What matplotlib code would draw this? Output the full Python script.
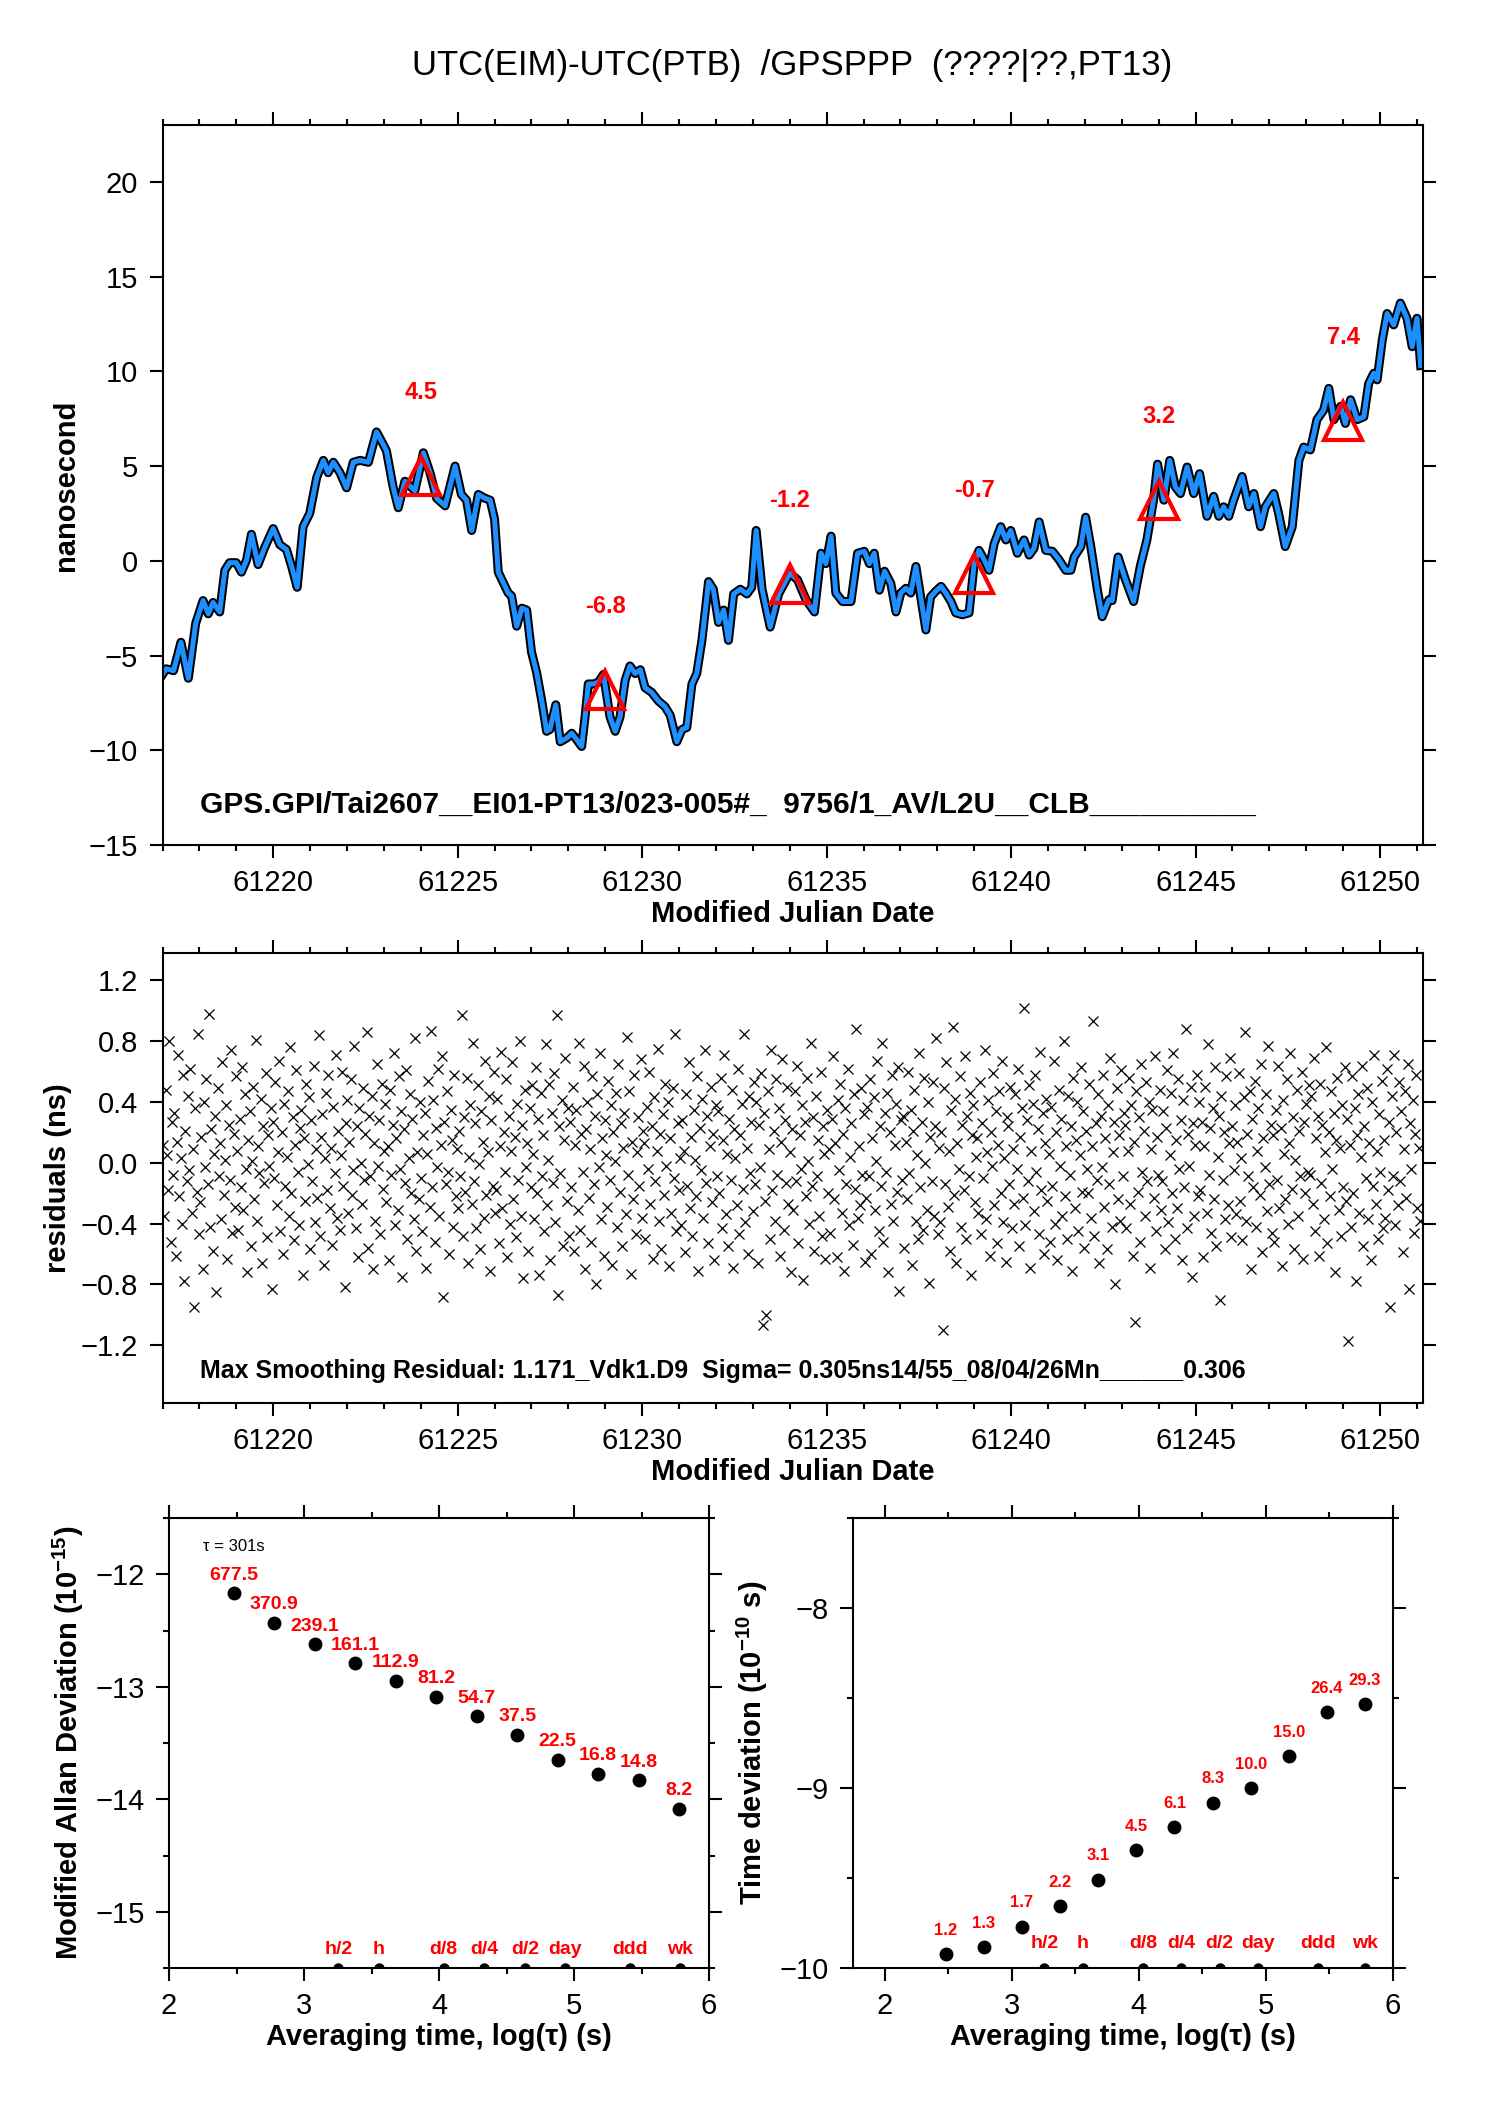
import numpy as np
import matplotlib.pyplot as plt
from matplotlib.ticker import MultipleLocator, FormatStrFormatter

plt.rcParams['font.family'] = ['Liberation Sans', 'DejaVu Sans']
plt.rcParams['mathtext.fontset'] = 'custom'
plt.rcParams['mathtext.rm'] = 'Liberation Sans'
plt.rcParams['mathtext.bf'] = 'Liberation Sans:bold'
plt.rcParams['axes.linewidth'] = 1.5

#%% data
title_txt = "UTC(EIM)-UTC(PTB)  /GPSPPP  (????|??,PT13)"
gps_txt = "GPS.GPI/Tai2607__EI01-PT13/023-005#_  9756/1_AV/L2U__CLB__________"
max_txt = "Max Smoothing Residual: 1.171_Vdk1.D9  Sigma= 0.305ns14/55_08/04/26Mn______0.306"

# smoothed curve
smooth_mjd = [61217.00, 61217.10, 61217.30, 61217.50, 61217.70, 61217.90, 61218.10, 61218.24, 61218.37, 61218.55,
              61218.69, 61218.82, 61219.00, 61219.14, 61219.28, 61219.41, 61219.59, 61219.77, 61220.00, 61220.18,
              61220.36, 61220.50, 61220.65, 61220.81, 61220.99, 61221.18, 61221.36, 61221.49, 61221.63, 61221.81,
              61221.99, 61222.17, 61222.35, 61222.58, 61222.80, 61222.98, 61223.07, 61223.25, 61223.39, 61223.57,
              61223.84, 61224.07, 61224.25, 61224.43, 61224.66, 61224.93, 61225.10, 61225.24, 61225.38, 61225.56,
              61225.74, 61225.88, 61226.00, 61226.10, 61226.37, 61226.46, 61226.60, 61226.74, 61226.87, 61227.00,
              61227.14, 61227.28, 61227.41, 61227.50, 61227.66, 61227.78, 61227.96, 61228.09, 61228.23, 61228.36,
              61228.45, 61228.54, 61228.68, 61228.82, 61228.95, 61229.13, 61229.27, 61229.40, 61229.54, 61229.67,
              61229.81, 61229.95, 61230.08, 61230.26, 61230.44, 61230.62, 61230.76, 61230.94, 61231.08, 61231.21,
              61231.35, 61231.48, 61231.62, 61231.80, 61231.93, 61232.07, 61232.21, 61232.34, 61232.48, 61232.66,
              61232.84, 61232.97, 61233.09, 61233.25, 61233.47, 61233.70, 61234.00, 61234.21, 61234.44, 61234.67,
              61234.85, 61234.98, 61235.12, 61235.25, 61235.43, 61235.66, 61235.84, 61236.02, 61236.16, 61236.29,
              61236.43, 61236.57, 61236.74, 61236.88, 61237.01, 61237.15, 61237.28, 61237.42, 61237.55, 61237.69,
              61237.82, 61237.96, 61238.10, 61238.23, 61238.37, 61238.50, 61238.68, 61238.86, 61239.00, 61239.13,
              61239.27, 61239.40, 61239.54, 61239.72, 61239.86, 61239.99, 61240.17, 61240.35, 61240.49, 61240.62,
              61240.76, 61240.94, 61241.12, 61241.30, 61241.48, 61241.62, 61241.71, 61241.89, 61242.02, 61242.16,
              61242.34, 61242.47, 61242.65, 61242.74, 61242.90, 61243.10, 61243.32, 61243.50, 61243.68, 61243.86,
              61243.97, 61244.14, 61244.30, 61244.45, 61244.59, 61244.77, 61244.95, 61245.11, 61245.31, 61245.49,
              61245.63, 61245.76, 61245.90, 61246.03, 61246.26, 61246.44, 61246.58, 61246.76, 61246.89, 61247.12,
              61247.25, 61247.43, 61247.62, 61247.80, 61247.93, 61248.11, 61248.29, 61248.47, 61248.61, 61248.75,
              61248.93, 61249.06, 61249.20, 61249.38, 61249.56, 61249.69, 61249.83, 61249.92, 61250.06, 61250.19,
              61250.37, 61250.55, 61250.73, 61250.87, 61251.00, 61251.10]
smooth_ns = [-6.0, -5.7, -5.8, -4.3, -6.2, -3.3, -2.1, -2.8, -2.2, -2.7,
             -0.5, -0.1, -0.1, -0.6, 0.05, 1.4, -0.2, 0.7, 1.7, 0.85,
             0.6, -0.3, -1.4, 1.8, 2.5, 4.4, 5.3, 4.65, 5.2, 4.65,
             3.85, 5.2, 5.3, 5.2, 6.8, 6.15, 5.8, 3.9, 2.8, 4.2,
             3.7, 5.7, 4.65, 3.3, 2.9, 5.0, 3.5, 3.2, 1.6, 3.5,
             3.3, 3.2, 2.2, -0.6, -1.7, -1.85, -3.45, -2.5, -2.6, -4.8,
             -5.9, -7.4, -9.0, -8.9, -7.6, -9.55, -9.35, -9.1, -9.45, -9.8,
             -8.3, -6.5, -6.5, -6.4, -6.0, -8.25, -9.0, -8.25, -6.3, -5.55,
             -5.95, -5.75, -6.7, -6.95, -7.4, -7.7, -8.15, -9.55, -8.9, -8.8,
             -6.5, -5.95, -4.2, -1.1, -1.5, -3.25, -2.6, -4.2, -1.75, -1.5,
             -1.75, -1.4, 1.6, -1.5, -3.5, -1.75, -0.65, -1.0, -2.05, -2.7,
             0.4, -0.15, 1.3, -1.7, -2.15, -2.15, 0.4, 0.5, -0.15, 0.4,
             -1.55, -0.55, -1.2, -2.7, -1.7, -1.45, -1.7, -0.3, -1.9, -3.65,
             -1.9, -1.6, -1.35, -1.7, -2.15, -2.75, -2.85, -2.75, -0.15, 0.55,
             0.05, -0.5, 0.9, 1.8, 1.1, 1.6, 0.4, 1.1, 0.3, 0.65,
             2.05, 0.55, 0.5, 0.05, -0.5, -0.5, 0.2, 0.75, 2.3, 0.75,
             -1.55, -2.95, -2.05, -2.1, 0.2, -1.0, -2.15, -0.3, 1.1, 3.2,
             5.1, 3.2, 5.3, 3.9, 3.55, 4.95, 3.55, 4.6, 2.35, 3.4,
             2.35, 2.85, 2.35, 3.2, 4.45, 2.85, 3.55, 1.8, 2.85, 3.55,
             2.5, 0.75, 1.8, 5.3, 6.0, 5.85, 7.45, 7.95, 9.1, 7.45,
             8.15, 7.25, 8.5, 7.45, 7.6, 9.35, 9.9, 9.55, 11.65, 13.05,
             12.45, 13.6, 12.8, 11.3, 12.8, 10.3]

# five-day markers
mark_mjd = [61224, 61229, 61234, 61239, 61244, 61249]
mark_ns = [4.5, -6.8, -1.2, -0.7, 3.2, 7.4]

# residuals, in units of 0.01 ns (one row per day)
resid_cns = [
    12, -35, 48, 5, -18, 80, -52, 27, -8, 33, -61, 14, 71, -22, 3, -40, 58, -78, 21, -12, 44, -5, 62, -33, 9, -95, 36, -19, 85, -47,
    -26, 17, -70, 40, -3, 55, -14, 98, -42, 22, -58, 6, 31, -85, 49, -9, 13, -37, 66, -21, 2, 38, -63, 25, -11, 74, -46, 19, -29, 57,
    8, -44, 29, -16, 63, -31, 45, -4, -72, 15, 34, -55, 1, 50, -24, 81, -38, 11, -7, 42, -66, 24, -13, 59, -49, 18, -2, 36, -83, 27,
    -10, 53, -28, 7, 67, -45, 20, -60, 39, -15, 4, 47, -35, 76, -20, 30, -51, 12, 61, -6, -41, 23, 35, -74, 16, -25, 52, -1, 43, -57,
    28, -12, 64, -39, 9, -23, 84, -48, 17, 32, -67, 3, 46, -18, 58, -30, 10, -54, 37, -7, 71, -36, 21, -44, 5, 60, -15, -82, 26, 41,
    -33, 14, 55, -21, -5, 77, -43, 24, -62, 36, 0, -27, 49, -11, 19, 86, -56, 31, -9, 44, -70, 13, -38, 65, -2, 28, -47, 52, -17, 8,
    39, -26, 11, -64, 48, -8, 25, 72, -41, 16, -31, 57, -4, 34, -75, 22, -13, 61, -50, 3, 45, -20, 29, -37, 82, -58, 7, -24, 40, -10,
    -45, 18, 33, -69, 6, 54, -29, 87, -16, 41, -52, 23, -3, 62, -35, 12, 70, -88, 27, -14, 47, -6, -60, 35, 15, -42, 58, -22, 9, -30,
    21, -9, 97, -48, 30, -19, 56, -66, 4, 38, -27, 79, -12, 26, -43, 51, -1, -57, 34, 14, -36, 67, -21, 7, 44, -71, 28, -15, 60, -33,
    -18, 42, -53, 11, 73, -30, 20, -6, 55, -62, 31, -40, 8, 66, -24, 17, -49, 39, -11, 80, -35, 25, -76, 48, -3, 13, -58, 36, -16, 51,
    6, -37, 63, -20, 29, -74, 46, -9, 18, -45, 78, -28, 2, 52, -64, 33, -13, 59, -39, 97, -87, 24, -7, 41, -55, 15, 69, -25, 36, -48,
    27, -16, 50, -58, 12, 35, -31, 79, -44, 19, -6, 64, -70, 22, 40, -23, 9, -52, 57, -14, 31, -80, 45, -3, 72, -37, 16, -61, 28, 5,
    -29, 54, -11, 38, -67, 20, 1, 46, -42, 65, -19, 26, -55, 10, 33, -34, 83, -8, 47, -73, 14, -24, 58, -47, 7, 30, -15, 68, -36, 21,
    13, -50, 37, -4, 60, -27, 24, -63, 43, -12, 8, 75, -38, 19, -57, 32, -21, 52, -2, 40, -68, 16, -33, 49, -10, 85, -45, 26, -18, 3,
    -41, 28, 8, -59, 45, -15, 66, -30, 17, -48, 35, 2, -22, 57, -71, 23, -5, 42, -36, 74, -13, 31, -53, 11, 50, -26, 19, -64, 38, -9,
    34, -20, 56, -43, 15, 71, -34, 6, -55, 29, -11, 48, -69, 22, 3, -28, 62, -47, 18, 39, -17, 85, -39, 10, -60, 44, -7, 27, -32, 53,
    -14, 40, -66, 25, -3, 59, -107, 33, -25, -100, 47, 9, -50, 74, -18, 21, -38, 55, -8, 36, -61, 14, 68, -44, 28, -13, 50, -27, 7, -72,
    22, -31, 47, -12, 64, -53, 18, -4, 38, -77, 27, -22, 56, 1, -40, 79, -15, 30, -58, 44, -9, 15, -35, 60, -48, 24, 6, -63, 35, -20,
    9, -46, 29, 70, -24, 13, -62, 41, -5, 52, -33, 19, -71, 36, -14, 62, -41, 4, 26, -54, 45, -17, 88, -36, 11, -28, 49, -8, 32, -65,
    -23, 37, -9, 55, -60, 16, 43, -31, 1, 67, -45, 24, -15, 79, -52, 33, -6, 46, -72, 20, -27, 58, -38, 12, 39, -19, 63, -84, 28, -11,
    31, -56, 14, -24, 60, -7, 35, -67, 21, 48, -38, 5, -50, 72, -16, 27, -44, 56, 0, -31, 40, -79, 17, -12, 53, -35, 24, 82, -47, 10,
    -39, 20, -110, 49, -14, 66, -29, 8, -58, 35, 89, -21, 42, -66, 13, -4, 57, -42, 25, -18, 70, -50, 31, -9, 46, -74, 18, 38, -26, 4,
    16, -33, 53, -47, 26, -10, 74, -37, 7, 41, -61, 20, -2, 59, -28, 34, -53, 12, 47, -20, 67, -39, 3, -65, 30, 24, -14, 50, -43, 9,
    -27, 45, -4, 62, -55, 17, 36, -23, 102, -41, 28, -12, 51, -69, 8, 39, -32, 58, -6, 22, -47, 73, -18, 33, -60, 13, 42, -25, 6, -52,
    37, -15, 67, -40, 20, -64, 48, -2, 29, -35, 80, -22, 11, -50, 44, -8, 24, -71, 56, -30, 15, 40, -45, 5, 63, -19, 34, -56, 21, -4,
    -20, 52, -36, 11, 93, -48, 26, -11, 45, -66, 31, -3, 58, -29, 16, -57, 38, -14, 69, -42, 7, 27, -80, 49, -24, 18, -38, 61, -9, 33,
    25, -43, 8, 56, -27, 38, -61, 14, -105, 47, -19, 30, -52, 65, -6, 21, -35, 53, -12, 40, -69, 9, 35, -23, 70, -45, 17, -8, 48, -31,
    -12, 34, -57, 23, 61, -39, 5, 46, -20, 72, -50, 15, -30, 55, -4, 28, -64, 41, -16, 88, -43, 19, -2, 50, -75, 26, -35, 12, 58, -22,
    40, -18, 27, -62, 11, 50, -33, 78, -8, 23, -46, 36, -24, 63, -55, 4, 31, -90, 44, -11, 20, -37, 57, -28, 13, 69, -49, 24, -5, 38,
    -34, 14, 59, -25, 3, -51, 43, 86, -38, 19, -9, 47, -70, 29, -16, 54, -42, 8, 36, -21, 65, -59, 16, -3, 45, -32, 77, -14, 25, -46,
    18, -52, 35, -11, 64, -30, 23, -68, 41, 6, -24, 55, -40, 13, 72, -17, 30, -57, 2, 48, -35, 21, -9, 60, -63, 27, -20, 39, -6, 51,
    -8, 44, -27, 69, -45, 16, 31, -61, 52, -13, 25, -37, 7, 76, -53, 20, -22, 47, -4, 33, -72, 15, 56, -31, 10, -48, 38, -16, 63, -25,
    29, -117, 12, -42, 57, -20, 36, -78, 18, 45, -33, 4, 64, -55, 24, -10, 49, -37, 13, -64, 40, -15, 71, -27, 8, -50, 32, -6, 54, -43,
    15, -36, 62, -18, 27, -95, 44, -9, 71, -41, 20, -28, 53, -12, 34, -59, 9, 47, -23, 65, -83, 26, -4, 41, -46, 19, 58, -30, 10, -38,
]

# stability, log10 of averaging time (tau0 = 301 s, doubling)
log_tau = [2.48, 2.78, 3.08, 3.38, 3.68, 3.98, 4.28, 4.58, 4.88, 5.18, 5.48, 5.78]
mdev_e15 = [677.5, 370.9, 239.1, 161.1, 112.9, 81.2, 54.7, 37.5, 22.5, 16.8, 14.8, 8.2]
tdev_e10 = [1.2, 1.3, 1.7, 2.2, 3.1, 4.5, 6.1, 8.3, 10.0, 15.0, 26.4, 29.3]

# reference averaging times (1800 s .. one week)
ref_names = ["h/2", "h", "d/8", "d/4", "d/2", "day", "ddd", "wk"]
ref_seconds = [1800, 3600, 10800, 21600, 43200, 86400, 259200, 604800]

#%% figure
W, H = 1488, 2105
fig = plt.figure(figsize=(W / 100, H / 100), dpi=100)

RED = '#ff0000'
BLUE = '#1e8fff'
TICK = 21


def style_axes(ax):
    ax.tick_params(which='both', direction='out', top=True, right=True,
                   labelsize=TICK, width=1.5, pad=8)
    ax.tick_params(which='major', length=9.5)
    ax.tick_params(which='minor', length=4.5)


#____top panel: time series
ax1 = fig.add_axes([162.5 / W, 1 - 845 / H, 1260 / W, 720 / H])
ax1.plot(smooth_mjd, smooth_ns, color='black', lw=6.5, solid_joinstyle='round')
ax1.plot(smooth_mjd, smooth_ns, color=BLUE, lw=3.6, solid_joinstyle='round')
ax1.plot(mark_mjd, mark_ns, ls='none', marker='^', ms=27, mfc='none', mec=RED, mew=3)
for xm, ym in zip(mark_mjd, mark_ns):
    ax1.annotate(f"{ym:.1f}", (xm, ym), xytext=(0, 60), textcoords='offset points',
                 ha='center', va='center', color=RED, fontsize=17, fontweight='bold')
ax1.text(61218.02, -12.9, gps_txt, fontsize=21.5, fontweight='bold', va='center')
ax1.set_xlim(61217.0, 61251.15)
ax1.set_ylim(-15, 23)
ax1.xaxis.set_major_locator(MultipleLocator(5))
ax1.xaxis.set_minor_locator(MultipleLocator(1))
ax1.xaxis.set_major_formatter(FormatStrFormatter('%d'))
ax1.yaxis.set_major_locator(MultipleLocator(5))
style_axes(ax1)
ax1.set_xlabel('Modified Julian Date', fontsize=21, fontweight='bold', labelpad=2)
ax1.set_ylabel('nanosecond', fontsize=21, fontweight='bold', labelpad=6)
fig.text(792 / W, 1 - 66 / H, title_txt, ha='center', va='center', fontsize=25)

#____middle panel: residuals
resid = np.array(resid_cns) / 100.0
resid_mjd = np.linspace(61217.02, 61251.08, len(resid))
ax2 = fig.add_axes([162.5 / W, 1 - 1403 / H, 1260 / W, 450 / H])
ax2.plot(resid_mjd, resid, ls='none', marker='x', ms=7, mew=0.9, color='black')
ax2.text(61218.02, -1.37, max_txt, fontsize=18, fontweight='bold', va='center')
ax2.set_xlim(61217.0, 61251.15)
ax2.set_ylim(-1.58, 1.38)
ax2.xaxis.set_major_locator(MultipleLocator(5))
ax2.xaxis.set_minor_locator(MultipleLocator(1))
ax2.xaxis.set_major_formatter(FormatStrFormatter('%d'))
ax2.yaxis.set_major_locator(MultipleLocator(0.4))
style_axes(ax2)
ax2.set_xlabel('Modified Julian Date', fontsize=21, fontweight='bold', labelpad=2)
ax2.set_ylabel('residuals (ns)', fontsize=21, fontweight='bold', labelpad=6)

ref_log = np.log10(ref_seconds)

#____bottom left: modified Allan deviation
ax3 = fig.add_axes([169 / W, 1 - 1968 / H, 540 / W, 450 / H])
y3 = np.log10(mdev_e15) - 15
ax3.plot(log_tau, y3, ls='none', marker='o', ms=9, color='black')
for xv, yv, lab in zip(log_tau, y3, mdev_e15):
    ax3.annotate(f"{lab:.1f}", (xv, yv), xytext=(0, 13), textcoords='offset points',
                 ha='center', va='center', color=RED, fontsize=14, fontweight='bold')
ax3.set_xlim(2, 6)
ax3.set_ylim(-15.5, -11.5)
ax3.plot(ref_log, np.full(len(ref_log), -15.5), ls='none', marker='o', ms=6.5, color='black')
for xv, lab in zip(ref_log, ref_names):
    ax3.annotate(lab, (xv, -15.5), xytext=(0, 13), textcoords='offset points',
                 ha='center', va='center', color=RED, fontsize=14, fontweight='bold')
ax3.text(2.25, -11.755, "τ = 301s", fontsize=12, va='center')
ax3.xaxis.set_major_locator(MultipleLocator(1))
ax3.xaxis.set_minor_locator(MultipleLocator(0.5))
ax3.yaxis.set_major_locator(MultipleLocator(1))
ax3.yaxis.set_minor_locator(MultipleLocator(0.5))
style_axes(ax3)
ax3.set_xlabel('Averaging time, log(τ) (s)', fontsize=21, fontweight='bold', labelpad=2)
ax3.set_ylabel(r'Modified Allan Deviation (10$^{\mathbf{-15}}$)', fontsize=21,
               fontweight='bold', labelpad=7)

#____bottom right: time deviation
ax4 = fig.add_axes([853 / W, 1 - 1968 / H, 540 / W, 450 / H])
y4 = np.log10(tdev_e10) - 10
ax4.plot(log_tau, y4, ls='none', marker='o', ms=9, color='black')
for xv, yv, lab in zip(log_tau, y4, tdev_e10):
    ax4.annotate(f"{lab:.1f}", (xv, yv), xytext=(0, 17), textcoords='offset points',
                 ha='center', va='center', color=RED, fontsize=12, fontweight='bold')
ax4.set_xlim(1.75, 6)
ax4.set_ylim(-10, -7.5)
ax4.plot(ref_log, np.full(len(ref_log), -10), ls='none', marker='o', ms=6.5, color='black')
for xv, lab in zip(ref_log, ref_names):
    ax4.annotate(lab, (xv, -10), xytext=(0, 18), textcoords='offset points',
                 ha='center', va='center', color=RED, fontsize=14, fontweight='bold')
ax4.xaxis.set_major_locator(MultipleLocator(1))
ax4.xaxis.set_minor_locator(MultipleLocator(0.5))
ax4.yaxis.set_major_locator(MultipleLocator(1))
ax4.yaxis.set_minor_locator(MultipleLocator(0.5))
style_axes(ax4)
ax4.set_xlabel('Averaging time, log(τ) (s)', fontsize=21, fontweight='bold', labelpad=2)
ax4.set_ylabel(r'Time deviation (10$^{\mathbf{-10}}$ s)', fontsize=21,
               fontweight='bold', labelpad=7)

fig.savefig('out.png', dpi=100)
